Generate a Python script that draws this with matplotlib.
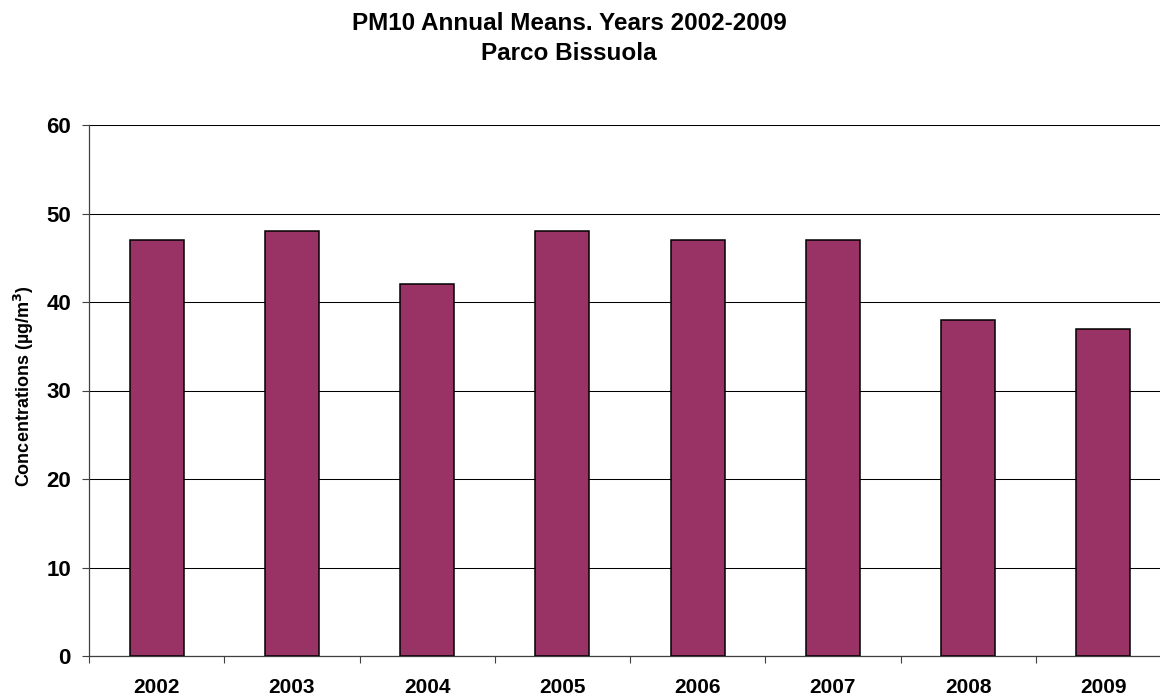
import matplotlib
matplotlib.use("Agg")
import matplotlib.pyplot as plt
import numpy as np

years = ["2002", "2003", "2004", "2005", "2006", "2007", "2008", "2009"]
pm10_means = [47, 48, 42, 48, 47, 47, 38, 37]
y_ticks = [0, 10, 20, 30, 40, 50, 60]

plt.rcParams["font.family"] = ["Liberation Sans", "DejaVu Sans"]
plt.rcParams["font.weight"] = "bold"

W, H = 1160, 698
fig = plt.figure(figsize=(W / 100, H / 100), dpi=100)
fig.patch.set_facecolor("white")

left_px, right_px = 89, 1171
top_px, bottom_px = 125, 656
ax = fig.add_axes([left_px / W, (H - bottom_px) / H,
                   (right_px - left_px) / W, (bottom_px - top_px) / H])

x = np.arange(len(years))
ax.bar(x, pm10_means, width=0.4, color="#993366", edgecolor="black",
       linewidth=1.1, zorder=3)

ax.set_xlim(-0.5, len(years) - 0.5)
ax.set_ylim(0, 60)
ax.set_yticks(y_ticks)
ax.set_yticklabels([str(v) for v in y_ticks], fontsize=16, fontweight="bold")
ax.yaxis.grid(True, color="black", linewidth=0.75, zorder=0)
ax.set_axisbelow(True)

ax.set_xticks(x)
ax.set_xticklabels(years, fontsize=15, fontweight="bold")
ax.set_xticks(np.arange(-0.5, len(years), 1.0), minor=True)
ax.tick_params(axis="x", which="major", length=0, pad=16)
ax.tick_params(axis="x", which="minor", length=5, width=0.8, color="#404040")
ax.tick_params(axis="y", which="major", length=5, width=0.8, color="#404040", pad=8)

for side in ("top", "right"):
    ax.spines[side].set_visible(False)
ax.spines["left"].set_color("#404040")
ax.spines["left"].set_linewidth(0.9)
ax.spines["bottom"].set_color("#404040")
ax.spines["bottom"].set_linewidth(0.9)

fig.text(24 / W, 1 - 386 / H, "Concentrations (µg/m$^{\\mathbf{3}}$)",
         rotation=90, ha="center", va="center", fontsize=13, fontweight="bold")

fig.text(569 / W, 1 - 23 / H, "PM10 Annual Means. Years 2002-2009",
         ha="center", va="center", fontsize=17.5, fontweight="bold")
fig.text(569 / W, 1 - 54 / H, "Parco Bissuola",
         ha="center", va="center", fontsize=17.5, fontweight="bold")

fig.savefig("out.png", dpi=100)
